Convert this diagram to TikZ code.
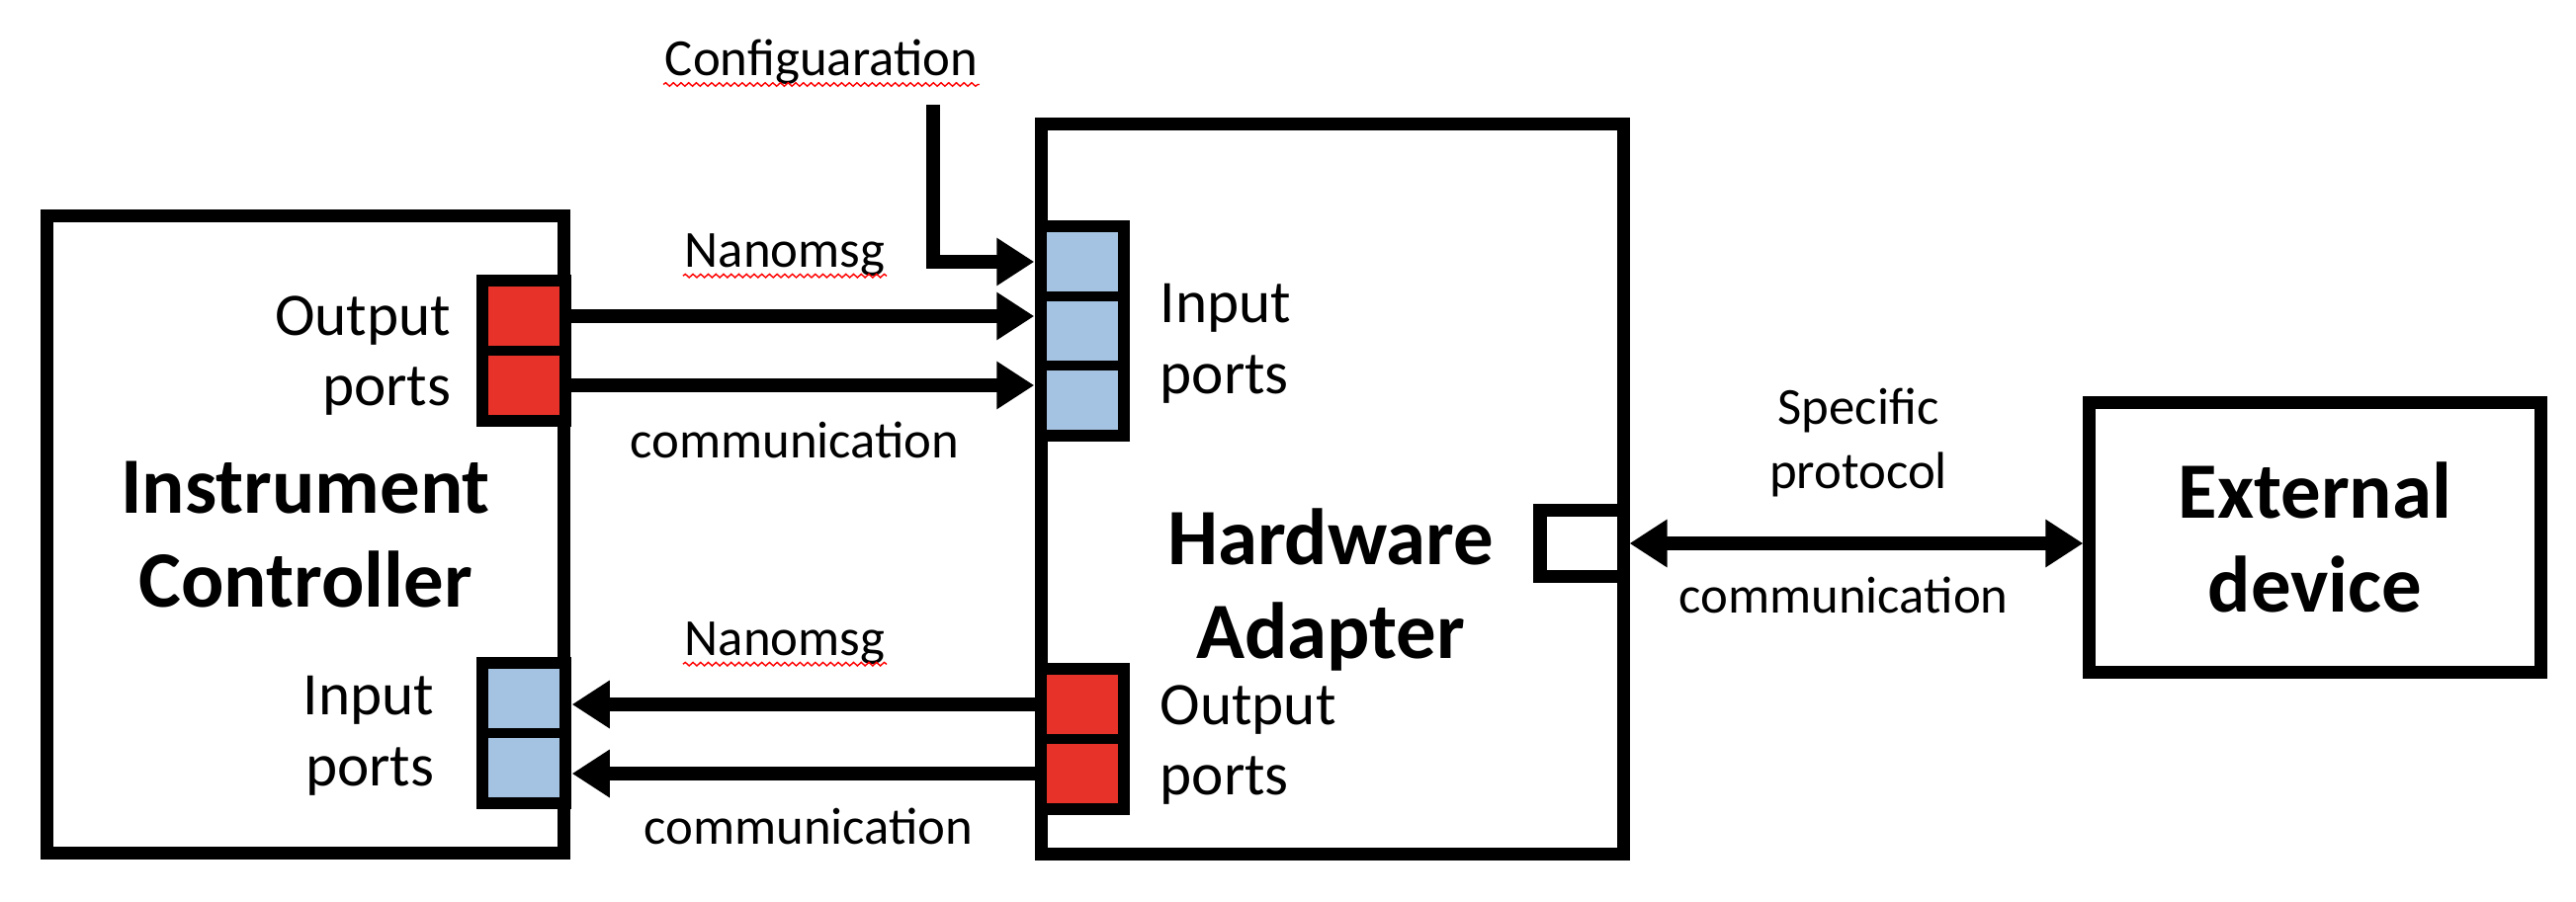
\documentclass[tikz,border=0pt]{standalone}
\usepackage{fontspec}
\setmainfont{Carlito}
\usetikzlibrary{arrows.meta,decorations.pathmorphing}

\begin{document}
\begin{tikzpicture}[x=0.01cm, y=-0.01cm,
    block/.style={draw=black, line width=3.7pt, fill=white, inner sep=0pt},
    portgroup/.style={fill=black, inner sep=0pt, minimum width=0.96cm},
    cell/.style={inner sep=0pt, minimum width=0.72cm, minimum height=0.6cm},
    title/.style={font=\fontsize{23}{27}\selectfont\bfseries, align=center},
    portlbl/.style={font=\fontsize{17.4}{20.4}\selectfont, inner sep=0pt},
    msg/.style={font=\fontsize{15}{18.5}\selectfont, align=center},
    conn/.style={line width=4pt, -{Triangle[length=0.38cm, width=0.46cm]}},
    dconn/.style={line width=4pt, {Triangle[length=0.38cm, width=0.46cm]}-{Triangle[length=0.38cm, width=0.46cm]}},
    squiggle/.style={draw=red, line width=0.4pt, decorate, decoration={snake, amplitude=0.5pt, segment length=2.2pt}}]

    % Define custom colors
    \definecolor{portred}{HTML}{E63228}
    \definecolor{portblue}{HTML}{A4C2E2}

    \useasboundingbox (0,0) rectangle (2606,912);

    % Main boxes
    \node[block, title, minimum width=5.22cm, minimum height=6.45cm] (ctrl) at (309,541) {Instrument\\Controller};
    \node[block, minimum width=5.88cm, minimum height=7.38cm] (ha) at (1348,495) {};
    \node[block, title, minimum width=4.56cm, minimum height=2.72cm] (ext) at (2342,544) {External\\device};
    \node[title] (halbl) at (1346,597) {Hardware\\Adapter};

    % Controller output ports (red)
    \node[portgroup, minimum height=1.54cm] (cout) at (530,355) {};
    \foreach \i in {1,2} {
        \node[cell, fill=portred] (cout\i) at (530, 250+70*\i) {};
    }

    % Controller input ports (blue)
    \node[portgroup, minimum height=1.54cm] (cin) at (530,742) {};
    \foreach \i in {1,2} {
        \node[cell, fill=portblue] (cin\i) at (530, 637+70*\i) {};
    }

    % Adapter input ports (blue)
    \node[portgroup, minimum height=2.24cm] (hain) at (1095,335) {};
    \foreach \i in {1,2,3} {
        \node[cell, fill=portblue] (hin\i) at (1095, 195+70*\i) {};
    }

    % Adapter output ports (red)
    \node[portgroup, minimum height=1.54cm] (haout) at (1095,748) {};
    \foreach \i in {1,2} {
        \node[cell, fill=portred] (hout\i) at (1095, 643+70*\i) {};
    }

    % Adapter specific port
    \node[block, minimum width=0.84cm, minimum height=0.66cm] (sp) at (1600,550) {};

    % Port labels
    \node[portlbl, align=right, anchor=east] (coutlbl) at (457,360) {Output\\ports};
    \node[portlbl, align=right, anchor=east] (cinlbl) at (440,745) {Input\\ports};
    \node[portlbl, align=left, anchor=west] (hinlbl) at (1173,348) {Input\\ports};
    \node[portlbl, align=left, anchor=west] (houtlbl) at (1173,754) {Output\\ports};

    % Configuration input
    \node[msg] (cfgtxt) at (831,63) {Configuaration};
    \coordinate (cfg) at (944,106);
    \draw[conn] (cfg) |- (hain.west |- hin1);

    % Nanomsg links
    \draw[conn] (cout1.east) -- (cout1 -| hain.west);
    \draw[conn] (cout2.east) -- (cout2 -| hain.west);
    \draw[conn] (hout1.west) -- (hout1 -| cin.east);
    \draw[conn] (hout2.west) -- (hout2 -| cin.east);

    % Specific protocol link
    \draw[dconn] (sp.east) -- (sp.east -| ext.west);

    % Link labels
    \node[msg] (nm1) at (794,258) {Nanomsg};
    \node[msg] (com1) at (804,445) {communication};
    \node[msg] (nm2) at (794,651) {Nanomsg};
    \node[msg] (com2) at (818,836) {communication};
    \node[msg] (proto) at (1880,448) {Specific\\protocol};
    \node[msg] (com3) at (1865,602) {communication};

    % Spell check marks
    \foreach \n in {cfgtxt,nm1,nm2} {
        \draw[squiggle] ([xshift=3pt,yshift=-2.5pt]\n.base west) -- ([xshift=-3pt,yshift=-2.5pt]\n.base east);
    }

\end{tikzpicture}
\end{document}
